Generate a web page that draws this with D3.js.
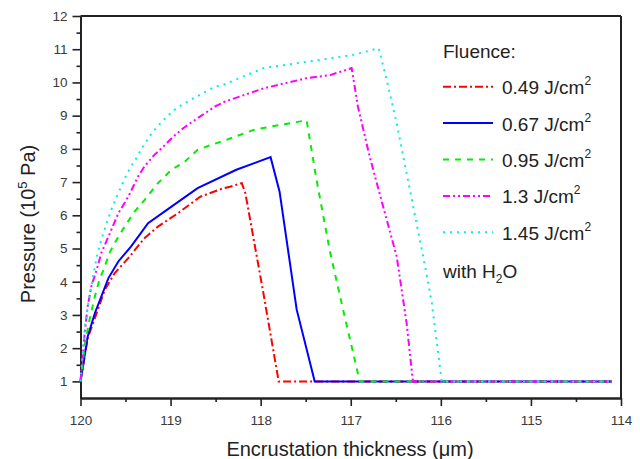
<!DOCTYPE html>
<html>
<head>
<meta charset="utf-8">
<script src="https://cdn.jsdelivr.net/npm/d3@7"></script>
<style>
  body { margin: 0; background: #fff; }
  svg { font-family: "Liberation Sans", Arial, sans-serif; }
</style>
</head>
<body>
<div id="chart"></div>
<script>
// Data: [thickness (µm), pressure (10^5 Pa)]
var fluence049 = [[120,1],[119.92,2.3],[119.82,3.06],[119.73,3.76],[119.62,4.26],[119.47,4.71],[119.29,5.31],[119.14,5.66],[118.92,6.06],[118.67,6.56],[118.42,6.81],[118.34,6.86],[118.21,6.97],[118.17,6.67],[117.97,3.66],[117.8,1],[114.1,1]];
var fluence067 = [[120,1],[119.92,2.35],[119.84,3.06],[119.69,4.11],[119.58,4.61],[119.44,5.06],[119.25,5.76],[118.99,6.26],[118.7,6.82],[118.27,7.37],[117.89,7.75],[117.79,6.71],[117.6,3.16],[117.4,1],[114.1,1]];
var fluence095 = [[120,1],[119.95,2.15],[119.9,2.86],[119.84,3.56],[119.79,4.06],[119.73,4.46],[119.68,4.86],[119.6,5.26],[119.51,5.66],[119.4,6.11],[119.29,6.46],[119.14,6.97],[118.99,7.37],[118.84,7.62],[118.7,7.97],[118.55,8.12],[118.38,8.27],[118.08,8.57],[117.79,8.72],[117.49,8.86],[117.38,7.07],[117.23,4.9],[117.08,3.1],[116.9,1],[114.1,1]];
var fluence130 = [[120,1],[119.95,2.55],[119.92,3.26],[119.88,3.86],[119.82,4.36],[119.77,4.86],[119.69,5.36],[119.58,6.06],[119.47,6.56],[119.36,7.17],[119.29,7.47],[119.18,7.82],[119.08,8.07],[118.95,8.42],[118.86,8.62],[118.73,8.87],[118.62,9.07],[118.51,9.27],[118.4,9.42],[117.97,9.82],[117.49,10.13],[117.23,10.22],[116.99,10.43],[116.92,9.27],[116.79,7.77],[116.64,6.26],[116.49,4.76],[116.38,2.76],[116.31,1],[114.1,1]];
var fluence145 = [[120,1],[119.95,2.65],[119.92,3.26],[119.88,3.86],[119.84,4.46],[119.81,4.86],[119.77,5.26],[119.71,5.76],[119.66,6.16],[119.58,6.67],[119.49,7.22],[119.44,7.47],[119.38,7.72],[119.33,7.97],[119.27,8.22],[119.21,8.47],[119.14,8.69],[119.05,8.95],[118.95,9.19],[118.86,9.35],[118.7,9.59],[118.51,9.87],[118.42,9.92],[117.97,10.43],[117.49,10.62],[116.97,10.83],[116.69,11.03],[116.6,10.07],[116.49,8.77],[116.38,7.27],[116.27,5.76],[116.16,4.26],[116.1,3.36],[115.99,1],[114.1,1]];

var legendLabels = ["0.49", "0.67", "0.95", "1.3", "1.45"];
var xTicks = [120, 119, 118, 117, 116, 115, 114];
var yTicks = [1, 2, 3, 4, 5, 6, 7, 8, 9, 10, 11, 12];

var series = [
    { values: fluence049, color: "#ff0000", dash: "8,3,2,3" },
    { values: fluence067, color: "#0000ff", dash: null },
    { values: fluence095, color: "#00ee00", dash: "6,6" },
    { values: fluence130, color: "#ff00ff", dash: "7,3,2,3,2,3" },
    { values: fluence145, color: "#00eeee", dash: "2,5" }
];

var W = 640, H = 459;
var margin = { top: 16, right: 19, bottom: 61, left: 80.5 },
    width = W - margin.left - margin.right,
    height = H - margin.top - margin.bottom;

var svg = d3.select("#chart").append("svg")
    .attr("width", W)
    .attr("height", H);

var g = svg.append("g")
    .attr("transform", "translate(" + margin.left + "," + margin.top + ")");

// Scales (x reversed: 120 on the left)
var xScale = d3.scaleLinear().domain([120, 114]).range([0, width]);
var yScale = d3.scaleLinear().domain([0.5, 12]).range([height, 0]);

// Minor ticks first
g.append("g")
    .attr("class", "x minor")
    .attr("transform", "translate(0," + height + ")")
    .call(d3.axisBottom(xScale).tickValues(d3.range(114.5, 120, 1)).tickSize(4).tickSizeOuter(0).tickFormat(""));
g.append("g")
    .attr("class", "y minor")
    .call(d3.axisLeft(yScale).tickValues(d3.range(1.5, 12, 1)).tickSize(4).tickSizeOuter(0).tickFormat(""));

// Major axes
g.append("g")
    .attr("class", "x axis")
    .attr("transform", "translate(0," + height + ")")
    .call(d3.axisBottom(xScale).tickValues(xTicks).tickSize(8).tickSizeOuter(0).tickPadding(9).tickFormat(d3.format("d")));
g.append("g")
    .attr("class", "y axis")
    .call(d3.axisLeft(yScale).tickValues(yTicks).tickSize(8).tickSizeOuter(0).tickPadding(5).tickFormat(d3.format("d")));

g.selectAll(".axis text")
    .style("font-size", "13.5px")
    .style("fill", "#3a3a3a");
g.selectAll(".axis .domain, .minor .domain")
    .attr("stroke", "#222")
    .attr("stroke-width", 2);
g.selectAll(".tick line")
    .attr("stroke", "#222")
    .attr("stroke-width", 1.6);

// Frame top / right
g.append("line")
    .attr("x1", 0).attr("x2", width).attr("y1", 0).attr("y2", 0)
    .attr("stroke", "#222").attr("stroke-width", 2);
g.append("line")
    .attr("x1", width).attr("x2", width).attr("y1", 0).attr("y2", height)
    .attr("stroke", "#222").attr("stroke-width", 2);

// Lines
var line = d3.line()
    .x(function (d) { return xScale(d[0]); })
    .y(function (d) { return yScale(d[1]); });

g.selectAll(".series")
    .data(series)
    .enter().append("path")
    .attr("class", "series")
    .attr("fill", "none")
    .attr("stroke", function (d) { return d.color; })
    .attr("stroke-width", 2)
    .attr("stroke-dasharray", function (d) { return d.dash; })
    .attr("d", function (d) { return line(d.values); });

// Axis titles
svg.append("text")
    .attr("x", 350)
    .attr("y", 456)
    .attr("text-anchor", "middle")
    .style("font-size", "20px")
    .style("fill", "#222")
    .text("Encrustation thickness (\u03bcm)");

var yTitle = svg.append("text")
    .attr("transform", "translate(35,224) rotate(-90)")
    .attr("text-anchor", "middle")
    .style("font-size", "20px")
    .style("fill", "#222");
yTitle.append("tspan").text("Pressure (10");
yTitle.append("tspan").attr("dy", -8).style("font-size", "13px").text("5");
yTitle.append("tspan").attr("dy", 8).text(" Pa)");

// Legend
var legend = svg.append("g").attr("class", "legend");
legend.append("text")
    .attr("x", 443).attr("y", 58)
    .style("font-size", "19px").style("fill", "#222")
    .text("Fluence:");

var rows = legend.selectAll(".row")
    .data(series)
    .enter().append("g")
    .attr("class", "row")
    .attr("transform", function (d, i) { return "translate(0," + (86.7 + i * 36.4) + ")"; });

rows.append("line")
    .attr("x1", 443).attr("x2", 493)
    .attr("stroke", function (d) { return d.color; })
    .attr("stroke-width", 2)
    .attr("stroke-dasharray", function (d) { return d.dash; });

var lt = rows.append("text")
    .attr("x", 502).attr("y", 7.5)
    .style("font-size", "19px").style("fill", "#222");
lt.append("tspan").text(function (d, i) { return legendLabels[i] + " J/cm"; });
lt.append("tspan").attr("dy", -9).style("font-size", "12px").text("2");

var h2o = legend.append("text")
    .attr("x", 443).attr("y", 278)
    .style("font-size", "19px").style("fill", "#222");
h2o.append("tspan").text("with H");
h2o.append("tspan").attr("dy", 5).style("font-size", "12px").text("2");
h2o.append("tspan").attr("dy", -5).text("O");
</script>
</body>
</html>
